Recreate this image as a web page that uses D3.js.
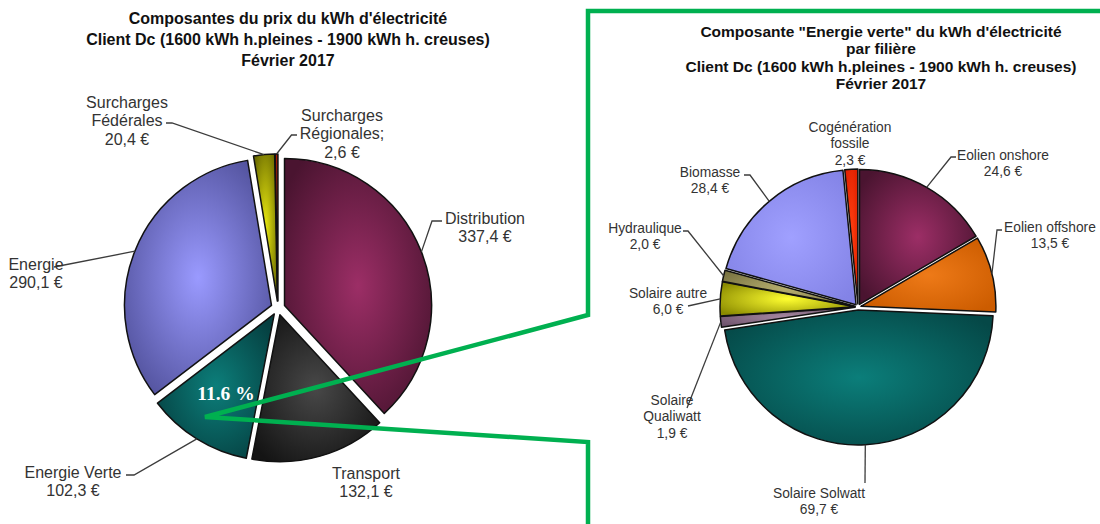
<!DOCTYPE html>
<html>
<head>
<meta charset="utf-8">
<script src="https://cdn.jsdelivr.net/npm/d3@7"></script>
<style>
  html, body { margin: 0; padding: 0; background: #ffffff; }
  svg { display: block; }
  text { font-family: "Liberation Sans", Arial, sans-serif; }
</style>
</head>
<body>
<div id="chart"></div>
<script>
// ---------- DATA ----------
const mainCategories = ["Distribution", "Transport", "Energie Verte", "Energie", "Surcharges Fédérales", "Surcharges Régionales"];
const mainValues = [337.4, 132.1, 102.3, 290.1, 20.4, 2.6];
const mainLabels = [
  ["Distribution", "337,4 €"],
  ["Transport", "132,1 €"],
  ["Energie Verte", "102,3 €"],
  ["Energie", "290,1 €"],
  ["Surcharges", "Fédérales", "20,4 €"],
  ["Surcharges", "Régionales;", "2,6 €"]
];
const greenCategories = ["Eolien onshore", "Eolien offshore", "Solaire Solwatt", "Solaire Qualiwatt", "Solaire autre", "Hydraulique", "Biomasse", "Cogénération fossile"];
const greenValues = [24.6, 13.5, 69.7, 1.9, 6.0, 2.0, 28.4, 2.3];
const greenLabels = [
  ["Eolien onshore", "24,6 €"],
  ["Eolien offshore", "13,5 €"],
  ["Solaire Solwatt", "69,7 €"],
  ["Solaire", "Qualiwatt", "1,9 €"],
  ["Solaire autre", "6,0 €"],
  ["Hydraulique", "2,0 €"],
  ["Biomasse", "28,4 €"],
  ["Cogénération", "fossile", "2,3 €"]
];
const mainTitle = ["Composantes du prix du kWh d'électricité", "Client Dc (1600 kWh h.pleines - 1900 kWh h. creuses)", "Février 2017"];
const greenTitle = ["Composante \"Energie verte\" du kWh d'électricité", "par filière", "Client Dc (1600 kWh h.pleines - 1900 kWh h. creuses)", "Février 2017"];
const highlightIndex = 2; // Energie Verte

// ---------- STYLE / LAYOUT ----------
const W = 1100, H = 524;
const mainLight = ["#9c2e66", "#484848", "#0c7e7a", "#9a9aff", "#e8e810", "#f03010"];
const mainDark  = ["#4a1430", "#141414", "#053f40", "#50509a", "#6a6a00", "#9a1500"];
const greenLight = ["#9c2e66", "#ee7a18", "#0b7e7a", "#a88aa2", "#ffff30", "#b8b070", "#a0a0ff", "#ff4010"];
const greenDark  = ["#4a1430", "#cc5c00", "#054847", "#6e526c", "#8a8a00", "#7a7442", "#8383e6", "#e02000"];

// label centers [x, firstLineY], leader elbow points (absolute coords)
const mainLabelPos = [[485, 218], [366, 473], [73, 472], [36, 264], [127, 102], [342, 115]];
const mainLeaders = [
  [[432, 221], [442, 221]],
  null,
  [[134, 475], [126, 475]],
  [[54, 267]],
  [[172, 123], [166, 123]],
  [[291.5, 135], [297, 135]]
];
const greenLabelPos = [[1003, 155], [1050, 227], [819, 493], [672, 400], [668, 293], [645, 228], [710, 172], [850, 127]];
const greenLeaders = [
  [[951, 157], [956, 157]],
  [[997, 230], [1002, 230]],
  [[865, 483]],
  [[687, 408]],
  [[688, 306]],
  [[688, 231], [683, 231]],
  [[750, 175], [744, 175]],
  null
];

const svg = d3.select("#chart").append("svg").attr("width", W).attr("height", H);
const defs = svg.append("defs");
svg.append("rect").attr("width", W).attr("height", H).attr("fill", "#fff");

function drawTitle(lines, cx, y0, step, size) {
  const t = svg.append("text").attr("text-anchor", "middle")
    .attr("font-size", size).attr("font-weight", "bold").attr("fill", "#111");
  lines.forEach((l, i) => {
    t.append("tspan").attr("x", cx).attr("y", y0 + i * step).text(l);
  });
}

function drawPie(cfg) {
  const g = svg.append("g").attr("transform", `translate(${cfg.cx},${cfg.cy})`);
  const arcs = d3.pie().sort(null).value(d => d)(cfg.values);
  const arc = d3.arc().innerRadius(0).outerRadius(cfg.r);
  arcs.forEach((a, i) => {
    const mid = (a.startAngle + a.endAngle) / 2;
    const dx = cfg.off * Math.sin(mid), dy = -cfg.off * Math.cos(mid);
    const id = cfg.id + "g" + i;
    const grad = defs.append("radialGradient").attr("id", id)
      .attr("cx", "50%").attr("cy", "50%").attr("r", "62%");
    grad.append("stop").attr("offset", "0%").attr("stop-color", cfg.light[i]);
    grad.append("stop").attr("offset", "100%").attr("stop-color", cfg.dark[i]);
    g.append("path").attr("d", arc(a))
      .attr("transform", `translate(${dx},${dy})`)
      .attr("fill", `url(#${id})`)
      .attr("stroke", "#111").attr("stroke-width", 1.5).attr("stroke-linejoin", "round");
  });
  // leaders
  arcs.forEach((a, i) => {
    const pts = cfg.leaders[i];
    if (!pts) return;
    const mid = (a.startAngle + a.endAngle) / 2;
    const R = cfg.r + cfg.off;
    const start = [cfg.cx + R * Math.sin(mid), cfg.cy - R * Math.cos(mid)];
    svg.append("path").attr("d", d3.line()([start].concat(pts)))
      .attr("fill", "none").attr("stroke", "#3c3c3c").attr("stroke-width", 1.3);
  });
  // labels
  cfg.labels.forEach((lines, i) => {
    const [x, y] = cfg.labelPos[i];
    const t = svg.append("text").attr("text-anchor", "middle")
      .attr("font-size", cfg.fontSize).attr("fill", "#333");
    lines.forEach((l, j) => {
      t.append("tspan").attr("x", x).attr("y", y + j * cfg.lineStep).attr("dy", "0.36em").text(l);
    });
  });
  return arcs;
}

drawTitle(mainTitle, 288, 24, 21, 16);
drawTitle(greenTitle, 881, 37, 17.3, 15.5);

const mainCfg = { id: "m", cx: 278, cy: 308, r: 147, off: 7, values: mainValues,
  light: mainLight, dark: mainDark, leaders: mainLeaders, labels: mainLabels,
  labelPos: mainLabelPos, fontSize: 16, lineStep: 18.5 };
const mainArcs = drawPie(mainCfg);

const greenCfg = { id: "v", cx: 858, cy: 307, r: 135, off: 3, values: greenValues,
  light: greenLight, dark: greenDark, leaders: greenLeaders, labels: greenLabels,
  labelPos: greenLabelPos, fontSize: 13.8, lineStep: 16.5 };
drawPie(greenCfg);

// green zoom connector and frame
svg.append("path")
  .attr("d", d3.line()([[1106, 11], [588, 11], [588, 315], [205, 417], [588, 442], [588, 530]]))
  .attr("fill", "none").attr("stroke", "#00b050").attr("stroke-width", 4.5)
  .attr("stroke-linejoin", "miter");

// percentage label
const total = d3.sum(mainValues);
const pct = (mainValues[highlightIndex] / total * 100).toFixed(1) + " %";
svg.append("text").attr("x", 226).attr("y", 400).attr("text-anchor", "middle")
  .attr("font-family", "'Liberation Serif', 'Times New Roman', serif")
  .style("font-family", "'Liberation Serif', 'Times New Roman', serif")
  .attr("font-size", 19.5).attr("font-weight", "bold").attr("fill", "#fff").text(pct);
</script>
</body>
</html>
